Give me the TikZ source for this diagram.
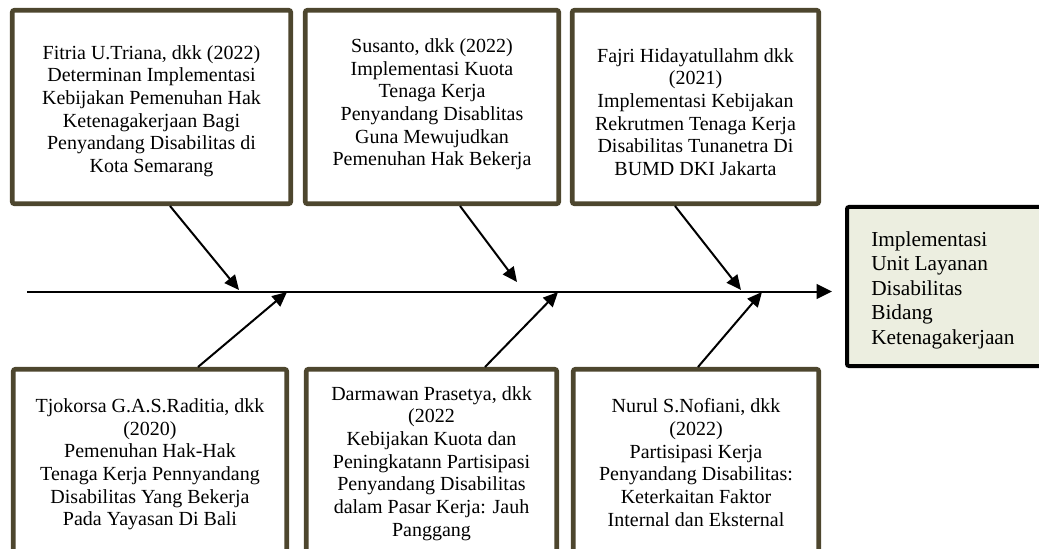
\documentclass[tikz,border=0pt]{standalone}
\usepackage{fontspec}
\setmainfont{Liberation Serif}
\usetikzlibrary{arrows.meta}
\definecolor{olive}{RGB}{77,70,46}
\definecolor{palegreen}{RGB}{236,238,224}
\tikzset{
  refbox/.style={draw=olive, line width=3.4pt, rounded corners=1.5pt, inner sep=0pt, fill=white},
  goalbox/.style={draw=black, line width=3pt, rounded corners=1.5pt, inner sep=0pt, fill=palegreen},
  reftext/.style={align=center, inner sep=0pt, font=\fontsize{15}{17}\selectfont},
  goaltext/.style={align=left, inner sep=0pt, anchor=west, font=\fontsize{16}{18.4}\selectfont},
  spine/.style={line width=1.5pt, -{Triangle[length=11.5pt,width=11pt]}},
  branch/.style={line width=1.5pt, -{Triangle[length=11pt,width=10pt]}}
}
\begin{document}
\begin{tikzpicture}[x=0.75pt,y=-0.75pt]
\useasboundingbox (0,0) rectangle (1039,549);
\clip (0,0) rectangle (1039,549);
% top boxes
\node[refbox, minimum width={278.5*0.75pt}, minimum height={193.5*0.75pt}] (T1) at (151.5,107) {};
\node[refbox, minimum width={253.5*0.75pt}, minimum height={193.5*0.75pt}] (T2) at (432,107) {};
\node[refbox, minimum width={246.5*0.75pt}, minimum height={193.5*0.75pt}] (T3) at (695.5,107) {};
% bottom boxes
\node[refbox, minimum width={273.5*0.75pt}, minimum height={190*0.75pt}] (B1) at (150,464.25) {};
\node[refbox, minimum width={250.5*0.75pt}, minimum height={190*0.75pt}] (B2) at (431.5,464.25) {};
\node[refbox, minimum width={245.5*0.75pt}, minimum height={190*0.75pt}] (B3) at (696,464.25) {};
% goal box
\node[goalbox, minimum width={203*0.75pt}, minimum height={159*0.75pt}] (G) at (948.5,286.5) {};
% texts
\node[reftext] (T1t) at (151.5,111) {Fitria U.Triana, dkk (2022)\\Determinan Implementasi\\Kebijakan Pemenuhan Hak\\Ketenagakerjaan Bagi\\Penyandang Disabilitas di\\Kota Semarang};
\node[reftext] (T2t) at (432,104.5) {Susanto, dkk (2022)\\Implementasi Kuota\\Tenaga Kerja\\Penyandang Disablitas\\Guna Mewujudkan\\Pemenuhan Hak Bekerja};
\node[reftext] (T3t) at (695.5,112) {Fajri Hidayatullahm dkk\\(2021)\\Implementasi Kebijakan\\Rekrutmen Tenaga Kerja\\Disabilitas Tunanetra Di\\BUMD DKI Jakarta};
\node[reftext] (B1t) at (150,464.5) {Tjokorsa G.A.S.Raditia, dkk\\(2020)\\Pemenuhan Hak-Hak\\Tenaga Kerja Pennyandang\\Disabilitas Yang Bekerja\\Pada Yayasan Di Bali};
\node[reftext] (B2t) at (431.5,463.5) {Darmawan Prasetya, dkk\\(2022\\Kebijakan Kuota dan\\Peningkatann Partisipasi\\Penyandang Disabilitas\\dalam Pasar Kerja: Jauh\\Panggang};
\node[reftext] (B3t) at (696,462.5) {Nurul S.Nofiani, dkk\\(2022)\\Partisipasi Kerja\\Penyandang Disabilitas:\\Keterkaitan Faktor\\Internal dan Eksternal};
\node[goaltext] (Gt) at (871,290) {Implementasi\\Unit Layanan\\Disabilitas\\Bidang\\Ketenagakerjaan};
% spine
\coordinate (s0) at (27,291.5);
\coordinate (s1) at (832,291.5);
\draw[spine] (s0) -- (s1);
% branch coordinates
\coordinate (a1s) at (170,206);  \coordinate (a1e) at (239,290);
\coordinate (a2s) at (460,206);  \coordinate (a2e) at (517,282);
\coordinate (a3s) at (675,206);  \coordinate (a3e) at (741,290);
\coordinate (b1s) at (198,367);  \coordinate (b1e) at (287,292);
\coordinate (b2s) at (485,367);  \coordinate (b2e) at (558,292);
\coordinate (b3s) at (698,367);  \coordinate (b3e) at (762,292);
\draw[branch] (a1s) -- (a1e);
\draw[branch] (a2s) -- (a2e);
\draw[branch] (a3s) -- (a3e);
\draw[branch] (b1s) -- (b1e);
\draw[branch] (b2s) -- (b2e);
\draw[branch] (b3s) -- (b3e);
\end{tikzpicture}
\end{document}
